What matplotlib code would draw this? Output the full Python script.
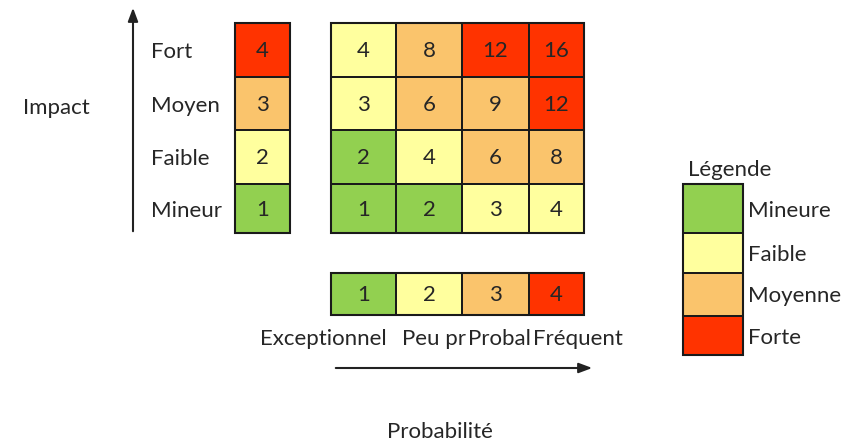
import matplotlib
matplotlib.use("Agg")
import matplotlib.pyplot as plt
from matplotlib.colors import ListedColormap, BoundaryNorm
import numpy as np

# ---- data ----
impact_labels = ["Fort", "Moyen", "Faible", "Mineur"]          # top -> bottom
impact_scores = [4, 3, 2, 1]
prob_labels = ["Exceptionnel", "Peu pr", "Probal", "Fréquent"]  # truncated as in source
prob_scores = [1, 2, 3, 4]
risk_matrix = [[4, 8, 12, 16],
               [3, 6, 9, 12],
               [2, 4, 6, 8],
               [1, 2, 3, 4]]
risk_class = [[1, 2, 3, 3],
              [1, 2, 2, 3],
              [0, 1, 2, 2],
              [0, 0, 1, 1]]
impact_class = [3, 2, 1, 0]
prob_class = [0, 1, 2, 3]
legend_labels = ["Mineure", "Faible", "Moyenne", "Forte"]
legend_class = [0, 1, 2, 3]
level_colors = ["#92D050", "#FFFF9E", "#FAC46C", "#FF3300"]

# ---- layout (pixel space) ----
W, H = 843, 443
fig = plt.figure(figsize=(W / 100, H / 100), dpi=100)
ax = fig.add_axes([0, 0, 1, 1])
ax.set_xlim(0, W)
ax.set_ylim(H, 0)
ax.axis("off")

FONT = "Lato"
FS = 16
TXT = "#262626"
cmap = ListedColormap(level_colors)
norm = BoundaryNorm([-0.5, 0.5, 1.5, 2.5, 3.5], 4)

col_edges = np.array([331, 396, 462, 529, 584])
row_edges = np.array([23, 77, 130, 184, 233])
left_edges = np.array([235, 290])
bottom_rows = np.array([273, 315])
leg_x = np.array([683, 743])
leg_rows = np.array([184, 233, 273, 316, 355])

def grid(xe, ye, cls, vals=None):
    cls = np.array(cls)
    ax.pcolormesh(xe, ye, cls, cmap=cmap, norm=norm, edgecolors="#1a1a1a",
                  linewidth=1.2)
    ax.add_patch(plt.Rectangle((xe[0], ye[0]), xe[-1] - xe[0], ye[-1] - ye[0],
                               fill=False, ec="#1a1a1a", lw=1.5))
    if vals is not None:
        vals = np.array(vals)
        xc = (xe[:-1] + xe[1:]) / 2
        yc = (ye[:-1] + ye[1:]) / 2
        for i in range(vals.shape[0]):
            for j in range(vals.shape[1]):
                ax.text(xc[j], yc[i] + 1, str(vals[i, j]), ha="center",
                        va="center", fontsize=FS, family=FONT, color=TXT)

# main matrix
grid(col_edges, row_edges, risk_class, risk_matrix)
# impact column
grid(left_edges, row_edges, np.array(impact_class)[:, None],
     np.array(impact_scores)[:, None])
# probability row
grid(col_edges, bottom_rows, np.array(prob_class)[None, :],
     np.array(prob_scores)[None, :])
# legend
grid(leg_x, leg_rows, np.array(legend_class)[:, None])

# impact labels
yc = (row_edges[:-1] + row_edges[1:]) / 2
for lab, y in zip(impact_labels, yc):
    ax.text(151, y + 2, lab, ha="left", va="center", fontsize=FS, family=FONT,
            color=TXT)

# probability labels (clipped to their cells, as in the source sheet)
prob_x = [387, 402, 468, 533]
prob_ha = ["right", "left", "left", "left"]
clip_right = [392, 462, 529, 640]
for lab, x, ha, cr in zip(prob_labels, prob_x, prob_ha, clip_right):
    t = ax.text(x, 339, lab, ha=ha, va="center", fontsize=FS, family=FONT,
                color=TXT)
    clip = plt.Rectangle((0, 320), cr, 40, transform=ax.transData,
                         visible=False)
    ax.add_patch(clip)
    t.set_clip_path(clip)

# legend labels
lyc = (leg_rows[:-1] + leg_rows[1:]) / 2
for lab, y in zip(legend_labels, lyc):
    ax.text(748, y + 2, lab, ha="left", va="center", fontsize=FS, family=FONT,
            color=TXT)
ax.text(688, 170, "Légende", ha="left", va="center", fontsize=FS, family=FONT,
        color=TXT)

# axis titles
ax.text(56, 108, "Impact", ha="center", va="center", fontsize=FS, family=FONT,
        color=TXT)
ax.text(440, 432, "Probabilité", ha="center", va="center", fontsize=FS,
        family=FONT, color=TXT)

# arrows
ax.annotate("", xy=(133, 5), xytext=(133, 234),
            arrowprops=dict(arrowstyle="-|>,head_length=0.8,head_width=0.3",
                            lw=1.5, color="#222222"))
ax.annotate("", xy=(595, 368), xytext=(333, 368),
            arrowprops=dict(arrowstyle="-|>,head_length=0.8,head_width=0.3",
                            lw=1.5, color="#222222"))

fig.savefig("out.png", dpi=100)
